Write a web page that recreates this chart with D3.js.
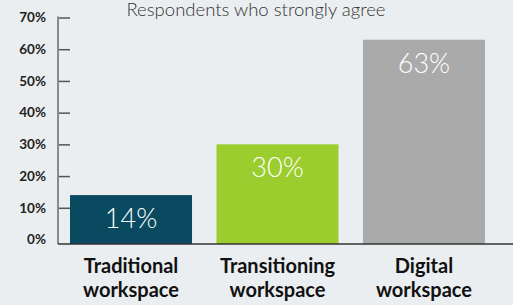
<!DOCTYPE html>
<html>
<head>
<meta charset="utf-8">
<script src="https://cdn.jsdelivr.net/npm/d3@7"></script>
<style>
  body { margin: 0; background: #ebeef0; }
  svg { display: block; font-family: Lato, "Open Sans", sans-serif; }
</style>
</head>
<body>
<svg id="chart" width="513" height="305"></svg>
<script>
// data
const categories = ["Traditional workspace", "Transitioning workspace", "Digital workspace"];
const values = [14, 30, 63];
const barColors = ["#0a4a60", "#9acd2d", "#aaaaaa"];
const yTickValues = [0, 10, 20, 30, 40, 50, 60, 70];
const title = "Respondents who strongly agree";

const width = 513, height = 305;
const axisX = 58;
const svg = d3.select("#chart");

svg.append("rect").attr("width", width).attr("height", height).attr("fill", "#ebeef0");

const x = d3.scaleBand()
  .domain(categories)
  .range([axisX, 497])
  .paddingInner(0.167)
  .paddingOuter(0.082);

const y = d3.scaleLinear().domain([0, 70]).range([239.5, 17.5]);
const baseline = y(0) + 4.5;

// bars
svg.selectAll(".bar")
  .data(categories)
  .enter()
  .append("rect")
  .attr("class", "bar")
  .attr("x", d => x(d))
  .attr("width", x.bandwidth())
  .attr("y", (d, i) => y(values[i]))
  .attr("height", (d, i) => baseline - y(values[i]))
  .attr("fill", (d, i) => barColors[i]);

// value labels inside bars
svg.selectAll(".val")
  .data(categories)
  .enter()
  .append("text")
  .attr("class", "val")
  .attr("x", d => x(d) + x.bandwidth() / 2)
  .attr("y", (d, i) => y(values[i]) + 33)
  .attr("text-anchor", "middle")
  .attr("fill", "#ffffff")
  .style("font-size", "27px")
  .style("font-weight", 300)
  .text((d, i) => values[i] + "%");

// y axis
const yAxis = svg.append("g")
  .attr("transform", `translate(${axisX},0)`)
  .call(d3.axisLeft(y).tickValues(yTickValues).tickFormat(d => d + "%")
    .tickSizeInner(-12).tickSizeOuter(0).tickPadding(12));
yAxis.select(".domain").remove();
yAxis.selectAll(".tick line").attr("stroke", "#555").attr("stroke-width", 1.5);
yAxis.selectAll(".tick").filter(d => d === 0).select("line").remove();
yAxis.selectAll(".tick text")
  .attr("fill", "#222")
  .style("font-size", "13.5px")
  .style("font-weight", 700)
  .style("font-family", "Lato, sans-serif");

svg.append("line")
  .attr("x1", axisX).attr("x2", axisX)
  .attr("y1", y(70) - 1).attr("y2", baseline)
  .attr("stroke", "#8a8a8a").attr("stroke-width", 2);

// x axis baseline
svg.append("line")
  .attr("x1", axisX).attr("x2", width)
  .attr("y1", baseline).attr("y2", baseline)
  .attr("stroke", "#333").attr("stroke-width", 1.5);

// category labels, two lines each
const cat = svg.selectAll(".cat")
  .data(categories)
  .enter()
  .append("text")
  .attr("class", "cat")
  .attr("text-anchor", "middle")
  .attr("fill", "#111")
  .style("font-size", "20px")
  .style("font-weight", 700);
cat.each(function (d) {
  const words = d.split(" ");
  const cx = x(d) + x.bandwidth() / 2;
  words.forEach((w, i) => {
    d3.select(this).append("tspan")
      .attr("x", cx)
      .attr("y", 273 + i * 24)
      .text(w);
  });
});

// title
svg.append("text")
  .attr("x", 256)
  .attr("y", 16)
  .attr("text-anchor", "middle")
  .attr("fill", "#333")
  .style("font-size", "18.5px")
  .style("font-weight", 300)
  .text(title);
</script>
</body>
</html>
